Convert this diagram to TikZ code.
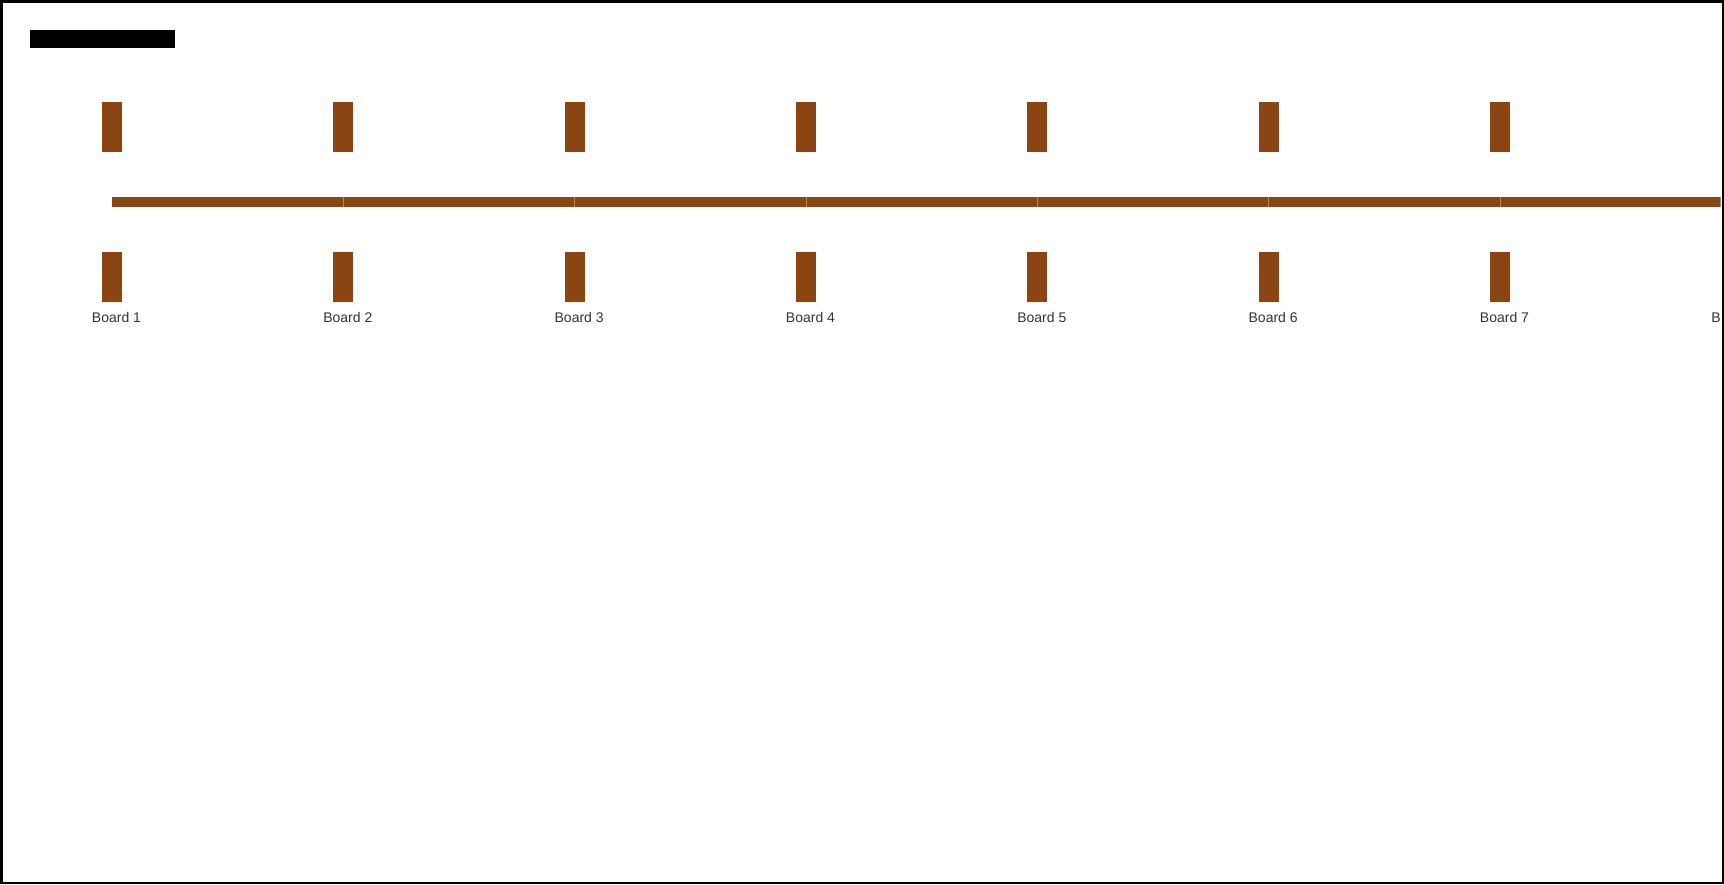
\documentclass[tikz,border=0pt]{standalone}
\usepackage{fontspec}
\setmainfont{Liberation Sans}
\definecolor{wood}{HTML}{8B4513}
\definecolor{woodlight}{HTML}{C08458}
\begin{document}
\begin{tikzpicture}[x=1pt,y=-1pt,
  post/.style={fill=wood,draw=none,minimum width=20pt,minimum height=50pt,inner sep=0pt,outer sep=0pt},
  beamseg/.style={fill=wood,draw=none},
  joint/.style={draw=woodlight,line width=0.7pt},
  lbl/.style={font=\fontsize{14}{16}\selectfont,text=black!80,inner sep=0pt,anchor=base},
  bar/.style={fill=black,draw=none,minimum width=145pt,minimum height=18pt,inner sep=0pt,outer sep=0pt},
  frame/.style={draw=black,line width=2.5pt}]
\useasboundingbox (0,0) rectangle (1724,884);
\node[bar] (title) at (102.5,39) {};
\begin{scope}
  \clip (0,0) rectangle (1720.5,884);
  \foreach \i in {1,...,8} {
    \pgfmathsetmacro\cx{112+231.33*(\i-1)}
    \ifnum\i<8
      \fill[beamseg] (\cx,197) rectangle (\cx+231.33,207);
    \fi
    \node[post] (t\i) at (\cx,127) {};
    \node[post] (b\i) at (\cx,277) {};
    \node[lbl] (l\i) at (\cx+4.5,322) {Board \i};
  }
  \foreach \i in {2,...,7} {
    \pgfmathsetmacro\cx{112+231.33*(\i-1)}
    \draw[joint] (\cx,197) -- (\cx,207);
  }
\end{scope}
\draw[frame] (1.25,1.25) rectangle (1722.75,882.75);
\end{tikzpicture}
\end{document}
